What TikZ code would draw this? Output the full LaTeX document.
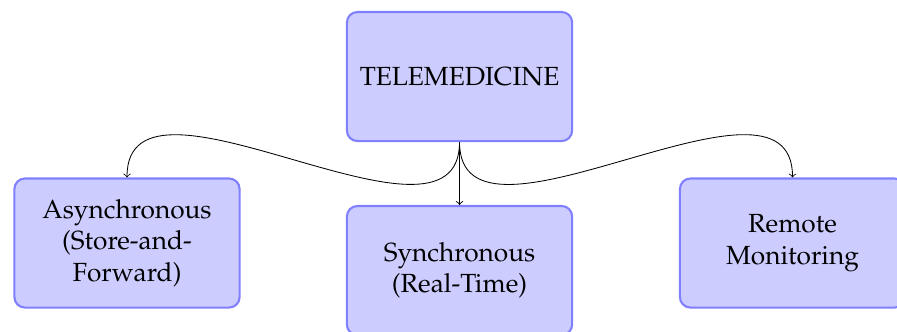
\documentclass[tikz,border=0pt]{standalone}
\usepackage[T1]{fontenc}
\usepackage{mathpazo}
\tikzset{
  kindbox/.style={draw=blue!50,fill=blue!20,line width=1pt,rounded corners=5pt,
    minimum width=3.77cm,minimum height=2.16cm,align=center,
    font=\fontsize{12.5}{14.9}\selectfont}
}
\begin{document}
\begin{tikzpicture}[>=to]
\useasboundingbox (0,0) rectangle (15.015,-5.541);
\node[kindbox] (tele) at (7.692,-1.281) {TELEMEDICINE};
\node[kindbox] (async) at (2.126,-4.068) {Asynchronous\\(Store-and-\\Forward)};
\node[kindbox] (sync) at (7.692,-4.528) {Synchronous\\(Real-Time)};
\node[kindbox] (remote) at (13.266,-4.068) {Remote\\Monitoring};
\draw[->] (tele.south) to[out=-90,in=90] (async.north);
\draw[->] (tele.south) -- (sync.north);
\draw[->] (tele.south) to[out=-90,in=90] (remote.north);
\end{tikzpicture}
\end{document}
